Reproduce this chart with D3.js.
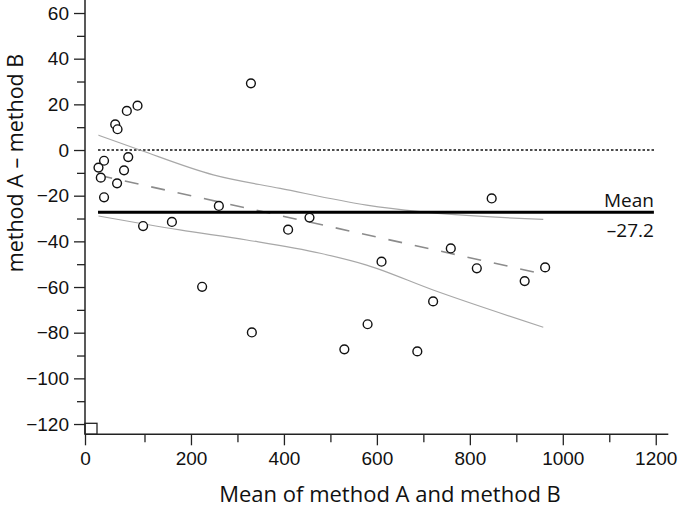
<!DOCTYPE html>
<html>
<head>
<meta charset="utf-8">
<script src="https://cdn.jsdelivr.net/npm/d3@7"></script>
<style>
  body { margin: 0; background: #fff; }
  svg { display: block; font-family: "Open Sans", "Noto Sans", sans-serif; }
  .axis path, .axis line { stroke: #222; stroke-width: 1.3; }
  .axis text { font-size: 19px; fill: #111; }
</style>
</head>
<body>
<svg id="chart" width="680" height="509"></svg>
<script>
/* data */
// mean of the two methods (x) and their difference (y)
const meanAB = [85, 62, 37, 42, 13, 1, 65, 56, 6, 41, 13,
  260, 97, 159, 409, 455,
  847, 759, 610, 815, 962, 918, 721, 580,
  224, 331, 530, 687, 329];
const diffAB = [19.4, 17.1, 11.2, 9.1, -4.7, -7.7, -3.1, -8.9, -12.1, -14.6, -20.7,
  -24.5, -33.3, -31.5, -34.9, -29.6,
  -21.2, -43.1, -48.9, -51.8, -51.4, -57.4, -66.3, -76.3,
  -59.9, -79.9, -87.3, -88.2, 29.2];

const meanDiff = -27.2;
// regression line of difference on mean (end points)
const regX = [1, 962];
const regY = [-11, -54.5];
// 95% confidence curves of the regression line
const upperX = [1, 90, 248, 392, 578, 693, 958];
const upperY = [6.5, 0, -10.9, -16.8, -24.1, -27, -30.4];
const lowerX = [1, 176, 320, 478, 578, 721, 958];
const lowerY = [-28.9, -35, -39.4, -45.2, -50.4, -61.3, -77.6];

const xMajor = [200, 400, 600, 800, 1000, 1200];
const xMinor = [100, 300, 500, 700, 900, 1100];
const yMajor = [-120, -100, -80, -60, -40, -20, 0, 20, 40, 60];
const yMinor = [-110, -90, -70, -50, -30, -10, 10, 30, 50];

const xTitle = "Mean of method A and method B";
const yTitle = "method A \u2013 method B";

/* layout */
const axisLeftX = 85, axisRightX = 668.3;
const axisTopY = 0, axisBottomY = 434.3;

const svg = d3.select("#chart");

const x = d3.scaleLinear().domain([-28, 1227]).range([axisLeftX, axisRightX]);
const y = d3.scaleLinear().domain([-124.5, 65.7]).range([axisBottomY, axisTopY]);

// y axis
svg.append("g")
  .attr("class", "axis")
  .attr("transform", "translate(" + axisLeftX + ",0)")
  .call(d3.axisLeft(y).tickValues(yMajor).tickSize(11).tickPadding(5)
    .tickFormat(d => d < 0 ? "\u2212" + Math.abs(d) : d))
  .call(g => g.select(".domain").remove());
svg.append("g")
  .attr("class", "axis")
  .attr("transform", "translate(" + axisLeftX + ",0)")
  .call(d3.axisLeft(y).tickValues(yMinor).tickSize(8).tickFormat(""))
  .call(g => g.select(".domain").remove());

// x axis; the picture puts its "0" label at the axis origin
const xTicks = [x.domain()[0]].concat(xMajor);
svg.append("g")
  .attr("class", "axis")
  .attr("transform", "translate(0," + axisBottomY + ")")
  .call(d3.axisBottom(x).tickValues(xTicks).tickSize(11).tickPadding(6)
    .tickFormat(d => d < 0 ? "0" : d))
  .call(g => g.select(".domain").remove());
svg.append("g")
  .attr("class", "axis")
  .attr("transform", "translate(0," + axisBottomY + ")")
  .call(d3.axisBottom(x).tickValues(xMinor).tickSize(8).tickFormat(""))
  .call(g => g.select(".domain").remove());

// axis lines
svg.append("line")
  .attr("x1", axisLeftX).attr("x2", axisLeftX)
  .attr("y1", axisTopY).attr("y2", axisBottomY)
  .attr("stroke", "#222").attr("stroke-width", 1.5);
svg.append("line")
  .attr("x1", axisLeftX).attr("x2", axisRightX)
  .attr("y1", axisBottomY).attr("y2", axisBottomY)
  .attr("stroke", "#222").attr("stroke-width", 1.5);

// little square in the corner
svg.append("rect")
  .attr("x", axisLeftX).attr("y", axisBottomY - 11)
  .attr("width", 12).attr("height", 11)
  .attr("fill", "none").attr("stroke", "#222").attr("stroke-width", 1.3);

// zero line
svg.append("line")
  .attr("x1", x(0)).attr("x2", x(1200))
  .attr("y1", y(0)).attr("y2", y(0))
  .attr("stroke", "#111").attr("stroke-width", 1.5)
  .attr("stroke-dasharray", "2.5,2");

// confidence curves
const curveLine = d3.line().x(d => x(d[0])).y(d => y(d[1])).curve(d3.curveMonotoneX);
svg.append("path")
  .attr("d", curveLine(d3.zip(upperX, upperY)))
  .attr("fill", "none").attr("stroke", "#a8a8a8").attr("stroke-width", 1.2);
svg.append("path")
  .attr("d", curveLine(d3.zip(lowerX, lowerY)))
  .attr("fill", "none").attr("stroke", "#a8a8a8").attr("stroke-width", 1.2);

// regression line
svg.append("path")
  .attr("d", d3.line().x(d => x(d[0])).y(d => y(d[1]))(d3.zip(regX, regY)))
  .attr("fill", "none").attr("stroke", "#8c8c8c").attr("stroke-width", 1.6)
  .attr("stroke-dasharray", "14,13");

// mean line
svg.append("line")
  .attr("x1", x(0)).attr("x2", x(1196))
  .attr("y1", y(meanDiff)).attr("y2", y(meanDiff))
  .attr("stroke", "#000").attr("stroke-width", 3);

svg.append("text")
  .attr("x", x(1196)).attr("y", y(meanDiff) - 5)
  .attr("text-anchor", "end").attr("font-size", 19).attr("fill", "#111")
  .text("Mean");
svg.append("text")
  .attr("x", x(1196)).attr("y", y(meanDiff) + 25)
  .attr("text-anchor", "end").attr("font-size", 19).attr("fill", "#111")
  .text("\u2013" + Math.abs(meanDiff));

// points
svg.append("g")
  .selectAll("circle")
  .data(d3.zip(meanAB, diffAB))
  .join("circle")
    .attr("cx", d => x(d[0]))
    .attr("cy", d => y(d[1]))
    .attr("r", 4.4)
    .attr("fill", "#fff")
    .attr("stroke", "#111")
    .attr("stroke-width", 1.4);

// titles
svg.append("text")
  .attr("x", 390).attr("y", 502)
  .attr("text-anchor", "middle").attr("font-size", 22).attr("fill", "#111")
  .text(xTitle);
svg.append("text")
  .attr("transform", "translate(22.5,163) rotate(-90)")
  .attr("text-anchor", "middle").attr("font-size", 21.5).attr("fill", "#111")
  .text(yTitle);
</script>
</body>
</html>
